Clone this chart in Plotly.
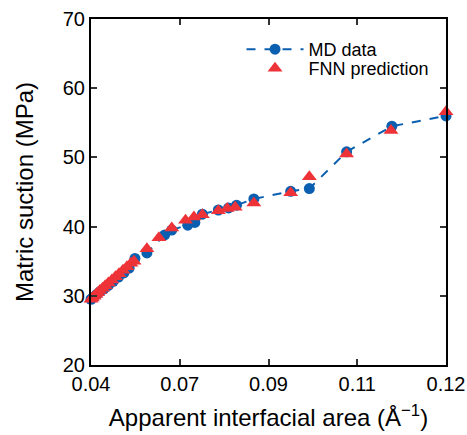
import plotly.graph_objects as go

# MD data (blue circles, dashed line)
md_x = [0.0400, 0.0405, 0.0413, 0.0420, 0.0429, 0.0439, 0.0450, 0.0462, 0.0474, 0.0486,
        0.0499, 0.0526, 0.0566, 0.0582, 0.0618, 0.0634, 0.0651, 0.0687, 0.0710, 0.0728,
        0.0767, 0.0850, 0.0892, 0.0976, 0.1078, 0.1200]
md_y = [29.5, 29.8, 30.2, 30.6, 31.0, 31.5, 32.1, 32.7, 33.3, 34.0,
        35.4, 36.2, 38.8, 39.5, 40.2, 40.6, 41.8, 42.4, 42.7, 43.1,
        44.0, 45.1, 45.5, 50.8, 54.5, 56.0]

# FNN prediction (red triangles)
fnn_x = [0.0400, 0.0403, 0.0407, 0.0411, 0.0415, 0.0420, 0.0426, 0.0432, 0.0439, 0.0447,
         0.0455, 0.0463, 0.0472, 0.0481, 0.0490, 0.0497,
         0.0526, 0.0553, 0.0582, 0.0613, 0.0632, 0.0651, 0.0687, 0.0707, 0.0725,
         0.0767, 0.0850, 0.0892, 0.0976, 0.1076, 0.1200]
fnn_y = [29.5, 29.7, 29.95, 30.2, 30.45, 30.75, 31.1, 31.45, 31.85, 32.3,
         32.75, 33.2, 33.7, 34.2, 34.7, 35.0,
         36.8, 38.4, 39.8, 40.9, 41.4, 41.7, 42.3, 42.6, 42.8,
         43.4, 44.9, 47.2, 50.5, 53.9, 56.6]

tick_vals = [0.04, 0.06, 0.08, 0.10, 0.12]
tick_text = ["0.04", "0.07", "0.09", "0.11", "0.12"]
y_ticks = [20, 30, 40, 50, 60, 70]

BLUE = "#0b5fb0"
RED = "#ee3338"
FONT = "Liberation Sans, Arial, sans-serif"

fig = go.Figure()
fig.add_trace(go.Scatter(
    x=md_x, y=md_y, mode="lines+markers", name="MD data",
    line=dict(color=BLUE, width=2, dash="dash"),
    marker=dict(symbol="circle", size=11, color=BLUE),
    cliponaxis=False, legend="legend",
))
fig.add_trace(go.Scatter(
    x=fnn_x, y=fnn_y, mode="markers", name="FNN prediction",
    marker=dict(symbol="triangle-up", size=13, color=RED),
    cliponaxis=False, legend="legend2",
))

axis_common = dict(
    showline=True, linecolor="black", linewidth=2, mirror="ticks",
    ticks="inside", ticklen=6, tickwidth=1.5, tickcolor="#333",
    showgrid=False, zeroline=False, automargin=False,
    tickfont=dict(family=FONT, size=20, color="black"),
)

legend_common = dict(
    x=0.424, xanchor="left", yanchor="middle",
    bgcolor="rgba(0,0,0,0)", borderwidth=0,
    font=dict(family=FONT, size=18, color="black"),
    itemwidth=57,
)

fig.update_layout(
    width=467, height=435,
    margin=dict(l=91, r=21, t=19, b=70),
    paper_bgcolor="white", plot_bgcolor="white",
    showlegend=True,
    legend=dict(y=0.912, **legend_common),
    legend2=dict(y=0.857, **legend_common),
    xaxis=dict(
        range=[0.04, 0.12], tickvals=tick_vals, ticktext=tick_text,
        title=dict(text="Apparent interfacial area (Å<sup>−1</sup>)",
                   font=dict(family=FONT, size=24, color="black"), standoff=15),
        **axis_common,
    ),
    yaxis=dict(
        range=[20, 70], tickvals=y_ticks,
        title=dict(text="Matric suction (MPa)",
                   font=dict(family=FONT, size=24, color="black"), standoff=22),
        **axis_common,
    ),
)

fig.write_html("out.html")
